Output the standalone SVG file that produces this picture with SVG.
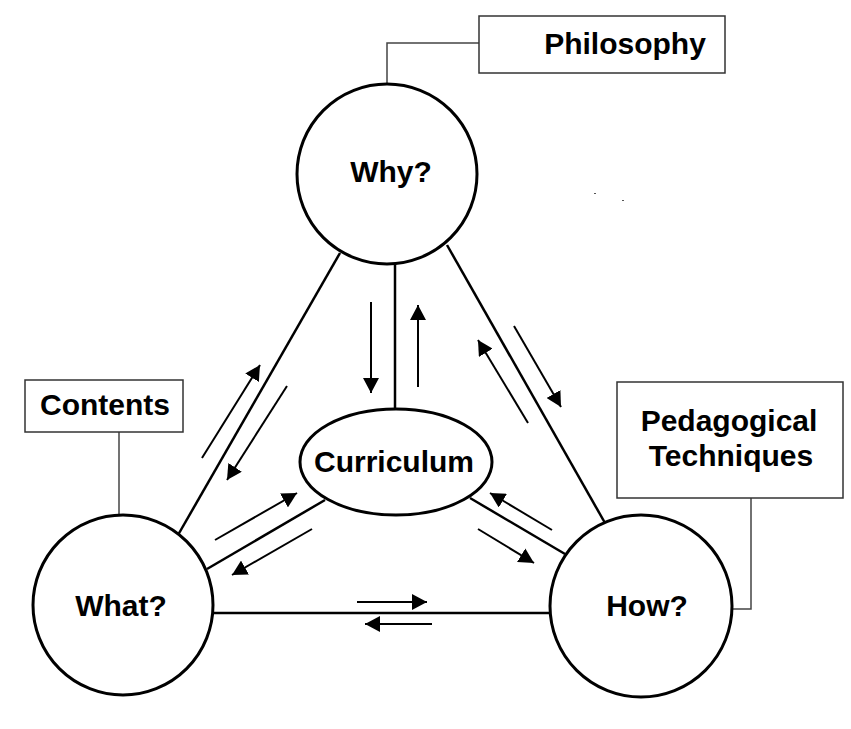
<svg xmlns="http://www.w3.org/2000/svg" width="851" height="729" viewBox="0 0 851 729">
<style>
.lbl{font-family:"Liberation Sans",Arial,sans-serif;font-weight:bold;font-size:30px;fill:#000;text-anchor:middle}
.node{fill:#fff;stroke:#000;stroke-width:3}
.box{fill:#fff;stroke:#333;stroke-width:1.5}
.thin{fill:none;stroke:#444;stroke-width:1.5}
.edge{fill:none;stroke:#000;stroke-width:2.5}
.arr{fill:none;stroke:#000;stroke-width:2;marker-end:url(#ah)}
</style>
<defs>
<marker id="ah" markerUnits="userSpaceOnUse" markerWidth="16" markerHeight="16" refX="15" refY="8" orient="auto">
<path d="M0,0 L15,8 L0,16 z" fill="#000"/>
</marker>
</defs>
<rect width="851" height="729" fill="#fff"/>
<g id="connectors">
<polyline class="thin" points="479,43 387,43 387,84"/>
<line class="thin" x1="119" y1="432" x2="119" y2="516"/>
<polyline class="thin" points="751,498 751,609 732,609"/>
<line class="edge" x1="340" y1="253" x2="178" y2="535"/>
<line class="edge" x1="447" y1="245" x2="605" y2="523"/>
<line class="edge" x1="207" y1="569" x2="325" y2="500"/>
<line class="edge" x1="470" y1="498" x2="565" y2="554"/>
<line class="edge" x1="213" y1="613" x2="550" y2="613"/>
<line class="edge" x1="395" y1="264" x2="395" y2="410"/>
<line class="arr" x1="371" y1="302" x2="371" y2="393"/>
<line class="arr" x1="418" y1="387" x2="418" y2="305"/>
<line class="arr" x1="202" y1="458" x2="260" y2="365"/>
<line class="arr" x1="287" y1="386" x2="227" y2="480"/>
<line class="arr" x1="528" y1="423" x2="478" y2="340"/>
<line class="arr" x1="514" y1="326" x2="561" y2="407"/>
<line class="arr" x1="215" y1="540" x2="297" y2="493"/>
<line class="arr" x1="312" y1="529" x2="232" y2="575"/>
<line class="arr" x1="552" y1="530" x2="490" y2="493"/>
<line class="arr" x1="478" y1="529" x2="534" y2="563"/>
<line class="arr" x1="357" y1="602" x2="427" y2="602"/>
<line class="arr" x1="432" y1="624" x2="365" y2="624"/>
</g>
<g id="philosophy">
<rect class="box" x="479" y="16" width="246" height="57"/>
<text class="lbl" x="625" y="54">Philosophy</text>
</g>
<g id="contents">
<rect class="box" x="25" y="380" width="158" height="52"/>
<text class="lbl" x="105" y="415">Contents</text>
</g>
<g id="pedagogical">
<rect class="box" x="617" y="382" width="226" height="116"/>
<text class="lbl" x="729" y="431">Pedagogical</text>
<text class="lbl" x="731" y="466">Techniques</text>
</g>
<g id="why">
<circle class="node" cx="387" cy="174" r="90"/>
<text class="lbl" x="391" y="182">Why?</text>
</g>
<g id="what">
<circle class="node" cx="123" cy="605" r="90"/>
<text class="lbl" x="121" y="616">What?</text>
</g>
<g id="how">
<circle class="node" cx="641" cy="606" r="91"/>
<text class="lbl" x="647" y="616">How?</text>
</g>
<g id="curriculum">
<ellipse class="node" cx="396" cy="462" rx="96" ry="53" stroke-width="2.5"/>
<text class="lbl" x="394" y="472">Curriculum</text>
</g>
<rect x="594" y="193" width="2" height="1" fill="#555"/>
<rect x="622" y="200" width="2" height="1" fill="#555"/>
</svg>
